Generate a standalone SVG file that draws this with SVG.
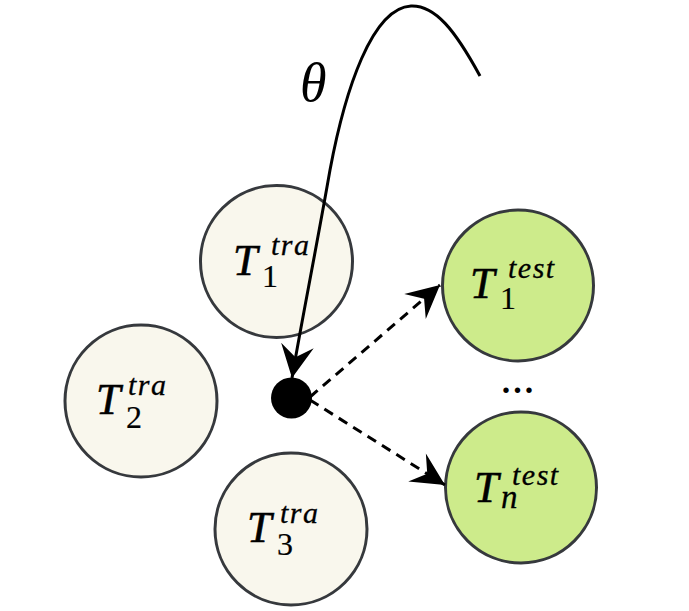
<svg xmlns="http://www.w3.org/2000/svg" width="689" height="611" viewBox="0 0 689 611">
<style>
.tra{fill:#f9f7ed;stroke:#36393d;stroke-width:3}
.test{fill:#cdeb8b;stroke:#36393d;stroke-width:3}
.lbl{font-family:"Liberation Serif","Times New Roman","DejaVu Serif",serif;fill:#000}
.T{font-style:italic;font-size:44px;stroke:#000;stroke-width:0.6}
.sup{font-style:italic;font-size:30px;letter-spacing:1.5px;stroke:#000;stroke-width:0.3}
.sub{font-style:normal;font-size:32px;stroke:#000;stroke-width:0.2}
.subi{font-style:italic;font-size:33px;stroke:#000;stroke-width:0.3}
.edge{fill:none;stroke:#000;stroke-width:3}
.dash{stroke-dasharray:10 7}
</style>
<defs>
<marker id="arr" markerUnits="userSpaceOnUse" markerWidth="40" markerHeight="40" viewBox="-35 -20 40 40" refX="0" refY="0" orient="auto">
<path d="M0,0 L-33,-16.5 L-21,0 L-33,16.5 Z" fill="#000"/>
</marker>
</defs>
<rect width="689" height="611" fill="#fff"/>
<g id="T1tra">
<circle class="tra" cx="276.5" cy="261.5" r="76"/>
<text class="lbl"><tspan class="T" x="233" y="275">T</tspan><tspan class="sub" x="262" y="287">1</tspan><tspan class="sup" x="271" y="255">tra</tspan></text>
</g>
<g id="T2tra">
<circle class="tra" cx="141" cy="401" r="76"/>
<text class="lbl"><tspan class="T" x="96" y="414">T</tspan><tspan class="sub" x="126" y="428">2</tspan><tspan class="sup" x="128" y="395">tra</tspan></text>
</g>
<g id="T3tra">
<circle class="tra" cx="291" cy="529" r="76"/>
<text class="lbl"><tspan class="T" x="247" y="542">T</tspan><tspan class="sub" x="277" y="555">3</tspan><tspan class="sup" x="280" y="523">tra</tspan></text>
</g>
<g id="T1test">
<circle class="test" cx="518" cy="285.5" r="75.5"/>
<text class="lbl"><tspan class="T" x="470" y="298">T</tspan><tspan class="sub" x="500" y="309">1</tspan><tspan class="sup" x="508" y="278">test</tspan></text>
</g>
<g id="Tntest">
<circle class="test" cx="521" cy="487.5" r="75.5"/>
<text class="lbl"><tspan class="T" x="474" y="502">T</tspan><tspan class="subi" x="501" y="508">n</tspan><tspan class="sup" x="512" y="485">test</tspan></text>
</g>
<g id="dots">
<text class="lbl" x="517.5" y="392.5" text-anchor="middle" font-size="46">...</text>
</g>
<g id="theta">
<text class="lbl" x="300" y="101" font-style="italic" font-size="54">θ</text>
</g>
<g id="point">
<circle cx="291.5" cy="398" r="20.5" fill="#000"/>
</g>
<g id="connectors">
<path class="edge" d="M480,76 C455,30 435,5 411,6 C372,8 345,90 330,170 C316,250 300,330 292,378" marker-end="url(#arr)"/>
<path class="edge dash" d="M310,397 L440,285" marker-end="url(#arr)"/>
<path class="edge dash" d="M310,400 L445,485" marker-end="url(#arr)"/>
</g>
</svg>
